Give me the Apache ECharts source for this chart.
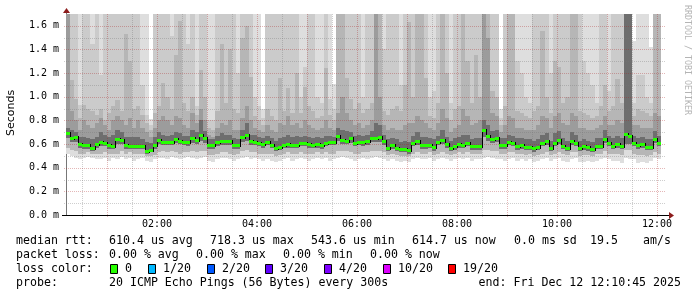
<!DOCTYPE html>
<html><head><meta charset="utf-8">
<script src="https://cdn.jsdelivr.net/npm/echarts@6/dist/echarts.min.js"></script>
<style>html,body{margin:0;padding:0;background:#fff}#c{width:697px;height:297px}</style>
</head><body><div id="c"></div>
<script>
// ---- DATA (ms), one value per 5-minute step starting 00:10 ----
const med = [
.692,.655,.660,.601,.590,.590,.566,.600,.617,.610,
.590,.585,.643,.633,.590,.585,.585,.585,.583,.543,
.553,.594,.636,.620,.620,.620,.643,.627,.616,.616,
.650,.633,.675,.650,.590,.590,.616,.627,.624,.624,
.590,.590,.656,.676,.624,.620,.607,.600,.618,.596,
.567,.578,.596,.604,.596,.596,.607,.607,.598,.596,
.604,.593,.609,.618,.618,.669,.635,.630,.649,.612,
.618,.615,.627,.655,.655,.661,.627,.570,.590,.570,
.556,.556,.550,.612,.624,.590,.590,.596,.573,.618,
.632,.598,.567,.584,.598,.596,.607,.581,.581,.581,
.717,.666,.640,.652,.593,.590,.618,.607,.584,.590,
.578,.578,.564,.578,.607,.624,.567,.612,.635,.587,
.570,.627,.612,.567,.584,.573,.561,.587,.587,.646,
.612,.587,.598,.587,.683,.669,.607,.590,.598,.578,
.578,.646,.612];
const hi1 = [
1.7,1.7,1.7,1.7,1.7,1.7,1.7,1.7,1.7,1.7,
1.7,1.7,1.7,1.7,1.7,1.7,1.7,1.7,1.7,1.7,
.81,1.7,1.7,1.7,1.7,1.7,1.7,1.7,1.7,1.7,
1.7,1.7,1.7,1.7,1.7,1.7,1.7,1.7,1.7,1.7,
1.7,1.7,1.7,1.7,1.7,1.7,1.7,.90,1.7,1.7,
1.7,1.7,1.7,1.7,1.7,1.7,1.7,1.7,1.7,1.7,
1.7,1.7,1.7,1.7,1.11,1.7,1.7,1.7,1.7,1.7,
1.7,1.7,1.7,1.7,1.7,1.7,1.7,1.7,1.7,1.7,
1.7,1.7,1.7,1.7,1.7,1.7,1.7,1.7,1.7,1.7,
1.7,1.7,1.7,1.7,1.7,1.7,1.7,1.7,1.7,1.7,
1.7,1.7,1.7,1.7,.90,1.7,1.7,1.7,1.7,1.7,
1.7,1.7,1.7,1.7,1.7,1.7,1.7,1.7,1.7,1.7,
1.7,1.7,1.7,1.7,1.7,1.7,1.7,1.7,1.7,1.7,
1.7,1.7,1.7,1.7,1.7,1.7,1.47,1.7,1.7,1.7,
1.42,1.7,1.7];
const hi2 = [
1.7,1.7,1.7,.93,1.7,1.7,1.45,1.7,1.18,1.7,
1.7,1.7,1.7,1.7,1.7,1.7,1.7,1.7,1.10,.85,
.76,1.7,1.7,1.7,1.7,1.51,1.7,1.7,1.7,1.45,
1.7,.92,1.7,1.7,.80,.80,1.7,1.7,1.7,1.7,
1.7,1.2,1.7,1.7,1.7,1.0,.92,.82,1.7,1.7,
1.7,1.7,1.7,1.7,1.7,1.7,1.0,1.25,1.7,1.7,
1.0,.95,1.7,.98,.90,1.7,1.7,1.7,1.7,1.7,
1.7,1.0,1.7,1.7,1.7,1.7,1.4,1.7,1.7,1.7,
1.1,1.7,1.7,1.7,1.7,1.7,1.7,1.0,1.05,1.7,
1.7,1.7,.95,1.7,1.7,1.7,1.7,1.7,1.7,1.7,
1.7,1.7,1.7,1.7,.82,1.7,1.7,1.7,1.3,1.2,
1.0,.95,1.7,1.7,1.7,1.7,1.2,1.7,1.7,1.7,
1.7,1.7,1.7,1.7,1.3,1.2,1.1,.95,1.7,1.7,
1.05,1.7,1.7,1.7,1.7,1.7,.95,1.18,1.18,1.0,
.95,1.7,1.7];
const hi3 = [
1.7,1.14,.98,.82,.93,.90,.88,.85,.90,.80,
.86,.92,.97,.88,1.53,1.30,.90,.92,.85,.78,
.72,.86,.92,1.12,1.0,.90,1.35,1.64,.95,.88,
1.0,.85,1.23,1.0,.74,.72,.88,1.45,.95,1.40,
.90,.86,1.50,1.60,1.17,.84,.80,.76,.90,.84,
.80,1.16,.88,1.07,.86,1.2,.86,1.08,.92,.88,
.82,.84,1.24,.85,.80,1.7,1.7,1.16,.98,.90,
.95,.86,.90,.95,1.7,1.7,.88,.85,.90,.92,
.88,1.1,1.63,1.0,1.7,1.7,1.16,.84,.82,.95,
1.7,1.2,.80,.90,.92,1.7,1.3,.95,1.35,1.0,
1.7,1.7,1.05,1.0,.76,.92,1.7,1.7,.88,.86,
.84,.82,.88,.92,1.56,1.0,.86,1.3,1.25,.95,
1.0,1.7,1.7,.88,.86,.85,.82,.84,.92,1.1,
.88,.92,1.15,.95,1.7,1.7,.84,.90,.88,.86,
.84,1.7,1.7];
const hi4 = [
1.7,.88,.80,.72,.80,.76,.74,.78,.82,.76,
.72,.80,.84,.80,.76,.82,.74,.80,.74,.70,
.66,.74,.80,.84,.80,.76,.84,.82,.76,.74,
.86,.78,.90,.80,.68,.66,.74,.78,.76,.80,
.72,.72,.82,.92,.80,.74,.72,.70,.76,.72,
.70,.78,.76,.84,.76,.78,.74,.80,.76,.74,
.72,.74,.80,.74,.72,.86,1.0,.86,.80,.76,
.78,.74,.76,.80,1.7,1.0,.76,.72,.74,.72,
.72,.76,.78,.78,.84,.80,.78,.74,.72,.78,
.90,.82,.70,.74,.76,.90,.84,.76,.78,.80,
1.7,1.5,.86,.84,.70,.76,.84,.82,.74,.74,
.72,.72,.72,.76,.84,.82,.74,.84,.86,.78,
.76,.86,.84,.74,.74,.72,.72,.74,.76,.84,
.76,.76,.80,.78,1.7,1.7,.76,.76,.74,.74,
.74,.86,.84];
const hi5 = [
.74,.72,.70,.66,.66,.65,.64,.66,.70,.68,
.66,.68,.72,.70,.66,.66,.66,.66,.64,.62,
.61,.66,.70,.68,.67,.68,.70,.69,.67,.67,
.72,.70,.80,.71,.64,.64,.67,.69,.68,.68,
.65,.64,.72,.78,.68,.68,.66,.65,.67,.65,
.63,.65,.66,.68,.66,.67,.66,.67,.66,.65,
.66,.65,.67,.67,.66,.74,.72,.71,.70,.67,
.68,.67,.68,.71,.78,.76,.68,.64,.65,.64,
.62,.63,.62,.67,.70,.66,.66,.65,.64,.67,
.72,.66,.63,.65,.66,.68,.68,.64,.65,.65,
.80,.76,.71,.72,.65,.65,.68,.67,.65,.65,
.64,.64,.63,.64,.68,.69,.63,.69,.71,.65,
.63,.70,.68,.63,.64,.63,.62,.65,.65,.72,
.67,.65,.67,.65,1.7,1.7,.67,.65,.66,.64,
.64,.71,.67];
const lo1 = [
.52,.50,.48,.47,.48,.49,.48,.47,.47,.48,
.46,.48,.47,.49,.47,.48,.46,.47,.48,.46,
.45,.47,.48,.48,.47,.49,.48,.47,.48,.49,
.48,.47,.48,.49,.46,.45,.47,.48,.48,.47,
.46,.47,.48,.49,.47,.48,.47,.46,.47,.46,
.45,.46,.47,.48,.46,.47,.48,.47,.46,.47,
.48,.47,.48,.46,.47,.48,.49,.48,.47,.46,
.47,.48,.47,.48,.49,.48,.47,.46,.47,.46,
.45,.46,.45,.47,.48,.47,.47,.48,.46,.47,
.48,.47,.46,.47,.48,.47,.48,.46,.47,.47,
.48,.49,.48,.47,.47,.46,.47,.48,.46,.47,
.46,.47,.45,.46,.47,.48,.46,.47,.48,.46,
.45,.47,.48,.45,.45,.46,.45,.46,.47,.48,
.47,.46,.46,.44,.48,.47,.47,.44,.45,.44,
.46,.48,.47];
const lo2 = [
.57,.55,.54,.52,.52,.53,.52,.52,.52,.53,
.52,.52,.52,.54,.52,.53,.52,.52,.52,.50,
.50,.51,.53,.54,.53,.54,.53,.52,.53,.53,
.54,.53,.54,.54,.51,.51,.52,.53,.53,.52,
.51,.52,.54,.55,.53,.53,.52,.52,.52,.52,
.50,.51,.52,.53,.52,.52,.53,.52,.52,.52,
.53,.52,.53,.52,.52,.54,.54,.54,.53,.52,
.52,.53,.53,.54,.54,.54,.53,.51,.52,.51,
.50,.50,.50,.52,.53,.52,.52,.53,.51,.52,
.53,.52,.51,.52,.53,.52,.53,.52,.52,.52,
.55,.55,.54,.54,.52,.52,.53,.53,.52,.52,
.51,.52,.50,.51,.52,.53,.51,.52,.53,.52,
.51,.53,.53,.50,.51,.51,.50,.52,.52,.54,
.52,.52,.52,.51,.55,.55,.52,.51,.51,.50,
.51,.53,.52];
const lo3 = [
.65,.62,.62,.57,.56,.56,.54,.57,.58,.58,
.56,.56,.60,.60,.56,.56,.56,.56,.56,.52,
.53,.56,.60,.59,.59,.59,.61,.60,.59,.58,
.61,.60,.63,.61,.56,.56,.58,.59,.59,.59,
.56,.56,.62,.63,.59,.59,.58,.57,.59,.57,
.54,.55,.57,.57,.57,.57,.58,.58,.57,.57,
.57,.56,.58,.59,.59,.63,.60,.60,.61,.58,
.59,.58,.59,.62,.62,.62,.59,.54,.56,.54,
.53,.53,.52,.58,.59,.56,.56,.57,.54,.59,
.60,.57,.54,.55,.57,.57,.58,.55,.55,.55,
.66,.63,.61,.62,.56,.56,.59,.58,.55,.56,
.55,.55,.53,.55,.58,.59,.54,.58,.60,.56,
.54,.59,.58,.54,.55,.54,.53,.56,.56,.61,
.58,.56,.57,.56,.60,.60,.58,.56,.57,.55,
.55,.61,.58];
const xTickTimes = [120, 240, 360, 480, 600, 720];
const xTickLabels = ['02:00', '04:00', '06:00', '08:00', '10:00', '12:00'];
const legendTexts1 = ['median rtt:', '610.4 us avg', '718.3 us max', '543.6 us min', '614.7 us now', '0.0 ms sd', '19.5', 'am/s'];
const legendTexts2 = ['packet loss:', '0.00 % avg', '0.00 % max', '0.00 % min', '0.00 % now'];
const lossLabels = ['0', '1/20', '2/20', '3/20', '4/20', '10/20', '19/20'];
const lossColors = ['#26ff00', '#00b8ff', '#0059ff', '#5e00ff', '#7e00ff', '#dd00ff', '#ff0000'];
const probeTexts = ['probe:', '20 ICMP Echo Pings (56 Bytes) every 300s', 'end: Fri Dec 12 12:10:45 2025'];

// ---- layout / style ----
const T0 = 10.75, T1 = 730.75, FIRST = 10, STEP = 5, YMAX = 1.7;
const MONO = '"DejaVu Sans Mono", monospace';
const smokeColors = ['#dedede', '#cbcbcb', '#b6b6b6', '#9c9c9c', '#6e6e6e'];
const smokeData = med.map((m, k) => [FIRST + STEP * k, FIRST + STEP * (k + 1), lo1[k], hi1[k], lo2[k], hi2[k], hi3[k], lo3[k], hi4[k], hi5[k]]);
const medData = med.map((m, k) => [FIRST + STEP * k, FIRST + STEP * (k + 1), m, k > 0 ? med[k - 1] : m]);
const vGrid = []; for (let t = 30; t < T1; t += 30) vGrid.push([t, 0, t % 60 === 0 ? 1 : 0]);
const hGrid = []; for (let i = 1; i <= 16; i++) hGrid.push([T0, i / 10, i % 2 === 0 ? 1 : 0]);
const MG = 'rgba(170,30,30,0.32)', GG = 'rgba(120,120,120,0.36)';

function smokeItem(params, api) {
  const t0 = api.value(0), t1 = api.value(1);
  const layers = [[2, 3], [4, 5], [4, 6], [7, 8], [7, 9]];
  const children = layers.map((L, i) => {
    const p0 = api.coord([t0, api.value(L[1])]);
    const p1 = api.coord([t1, api.value(L[0])]);
    const x0 = Math.round(p0[0]), x1 = Math.round(p1[0]);
    const y0 = Math.round(p0[1]), y1 = Math.round(p1[1]);
    return { type: 'rect', shape: { x: x0, y: y0, width: x1 - x0, height: y1 - y0 }, style: { fill: smokeColors[i] } };
  });
  return { type: 'group', children };
}
function medItem(params, api) {
  const t0 = api.value(0), t1 = api.value(1);
  const p0 = api.coord([t0, api.value(2)]), p1 = api.coord([t1, api.value(2)]);
  const pp = api.coord([t0, api.value(3)]);
  const x0 = Math.round(p0[0]), x1 = Math.round(p1[0]), yc = Math.round(p0[1]), yp = Math.round(pp[1]);
  const ch = [];
  if (yc !== yp) ch.push({ type: 'line', shape: { x1: x0 + 0.5, y1: Math.min(yc, yp) - 1, x2: x0 + 0.5, y2: Math.max(yc, yp) + 2 }, style: { stroke: '#000', lineWidth: 1 } });
  ch.push({ type: 'rect', shape: { x: x0, y: yc - 1, width: x1 - x0, height: 3 }, style: { fill: '#26ff00' } });
  return { type: 'group', children: ch };
}
function vGridItem(params, api) {
  const t = api.value(0);
  const p0 = api.coord([t, 0]), p1 = api.coord([t, YMAX]);
  const x = Math.round(p0[0]) + 0.5;
  return { type: 'line', shape: { x1: x, y1: p0[1] + 2, x2: x, y2: p1[1] }, style: { stroke: api.value(2) ? MG : GG, lineWidth: 1, lineDash: [1, 1] } };
}
function hGridItem(params, api) {
  const v = api.value(1);
  const p0 = api.coord([T0, v]), p1 = api.coord([T1, v]);
  const y = Math.round(p0[1]) + 0.5;
  return { type: 'line', shape: { x1: p0[0] - 2, y1: y, x2: p1[0], y2: y }, style: { stroke: api.value(2) ? MG : GG, lineWidth: 1, lineDash: [1, 1] } };
}

const graphics = [];
function txt(text, x, y, extra) {
  graphics.push(Object.assign({ type: 'text', x: x, y: y, style: { text: text, font: '11.6px ' + MONO, fill: '#000', verticalAlign: 'middle' } }, extra || {}));
}
const l1x = [16, 109, 210, 311, 412, 514, 590, 643];
legendTexts1.forEach((t, i) => txt(t, l1x[i], 241));
const l2x = [16, 109, 196, 283, 370];
legendTexts2.forEach((t, i) => txt(t, l2x[i], 255));
txt('loss color:', 16, 269);
const boxX = [110, 148, 207, 265, 324, 383, 448];
lossLabels.forEach((t, i) => {
  graphics.push({ type: 'rect', shape: { x: boxX[i] + 0.5, y: 264.5, width: 7, height: 9 }, style: { fill: lossColors[i], stroke: '#000', lineWidth: 1 } });
  txt(t, boxX[i] + 15, 269);
});
txt(probeTexts[0], 16, 283);
txt(probeTexts[1], 109, 283);
graphics.push({ type: 'text', x: 681, y: 283, style: { text: probeTexts[2], font: '11.6px ' + MONO, fill: '#000', verticalAlign: 'middle', align: 'right' } });
graphics.push({ type: 'text', x: 11, y: 113, rotation: Math.PI / 2, style: { text: 'Seconds', font: '11px "DejaVu Sans", sans-serif', fill: '#000', align: 'center', verticalAlign: 'middle' } });
graphics.push({ type: 'text', x: 687, y: 60, rotation: -Math.PI / 2, style: { text: 'RRDTOOL / TOBI OETIKER', font: '8.3px ' + MONO, fill: '#b4b4b4', align: 'center', verticalAlign: 'middle' } });
// axis extensions and arrows
graphics.push({ type: 'line', shape: { x1: 62, y1: 215.5, x2: 670, y2: 215.5 }, style: { stroke: '#000', lineWidth: 1 } });
graphics.push({ type: 'polygon', shape: { points: [[669, 212], [674, 215.5], [669, 219]] }, style: { fill: '#8c1c1c' } });
graphics.push({ type: 'line', shape: { x1: 66.5, y1: 14, x2: 66.5, y2: 11 }, style: { stroke: '#777', lineWidth: 1 } });
graphics.push({ type: 'polygon', shape: { points: [[63, 13], [66.5, 8], [70, 13]] }, style: { fill: '#8c1c1c' } });
graphics.forEach(g => { g.z = 100; });

const chart = echarts.init(document.getElementById('c'), null, { renderer: 'canvas' });
chart.setOption({
  animation: false,
  backgroundColor: '#fff',
  grid: { left: 66, right: 31, top: 14, bottom: 82, containLabel: false, outerBoundsMode: 'none' },
  xAxis: {
    type: 'value', min: T0, max: T1,
    axisLine: { show: false },
    axisTick: { show: false }, splitLine: { show: false },
    axisLabel: {
      customValues: xTickTimes,
      formatter: v => xTickLabels[xTickTimes.indexOf(Math.round(v))] || '',
      fontFamily: MONO, fontSize: 10, color: '#000', margin: 4
    }
  },
  yAxis: {
    type: 'value', min: 0, max: YMAX, interval: 0.2,
    axisLine: { show: true, lineStyle: { color: '#777', width: 1 } },
    axisTick: { show: false }, splitLine: { show: false },
    axisLabel: { formatter: v => v.toFixed(1) + ' m', showMaxLabel: false, fontFamily: MONO, fontSize: 10, color: '#000', margin: 7 }
  },
  series: [
    { type: 'custom', name: 'smoke', renderItem: smokeItem, data: smokeData, clip: true, z: 1, silent: true, encode: { x: [0, 1], y: [2, 3] } },
    { type: 'custom', name: 'vgrid', renderItem: vGridItem, data: vGrid, z: 2, silent: true, encode: { x: 0, y: 1 } },
    { type: 'custom', name: 'hgrid', renderItem: hGridItem, data: hGrid, z: 2, silent: true, encode: { x: 0, y: 1 } },
    { type: 'custom', name: 'median', renderItem: medItem, data: medData, clip: true, z: 3, silent: true, encode: { x: [0, 1], y: 2 } }
  ],
  graphic: graphics
});
</script></body></html>
